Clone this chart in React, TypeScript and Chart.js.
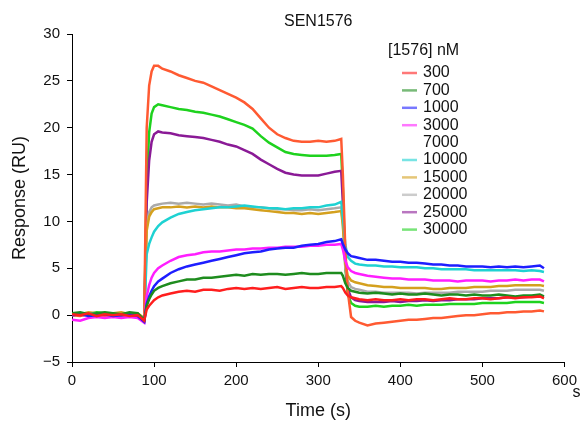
import { useEffect, useRef } from "react";
import { Chart, registerables } from "chart.js";

Chart.register(...registerables);

const FONT = "'Liberation Sans', Arial, Helvetica, sans-serif";

const CHART_TITLE = "SEN1576";
const LEGEND_TITLE = "[1576] nM";
const X_TITLE = "Time (s)";
const Y_TITLE = "Response (RU)";
const X_UNIT = "s";

const TIME = [
  0, 10, 20, 30, 40, 50, 60, 70, 80, 88,
  91, 94, 97, 100, 105,
  110, 120, 130, 140, 150, 160, 170, 180, 190, 200, 210, 220, 230, 240, 250, 260, 270, 280, 290, 300, 310, 320,
  328,
  330, 333, 336, 340, 345,
  350, 360, 370, 380, 390, 400, 410, 420, 430, 440, 450, 460, 470, 480, 490, 500, 510, 520, 530, 540, 550, 560, 570,
  575,
];

const S300 = [
  0.1, 0.0, 0.2, -0.1, 0.1, 0.0, 0.1, -0.1, 0.0, -0.6,
  0.6, 1.0, 1.3, 1.6, 1.9,
  2.1, 2.3, 2.5, 2.6, 2.5, 2.7, 2.7, 2.6, 2.8, 2.9, 2.8, 2.9, 2.8, 2.9, 3.0, 2.8, 2.9, 3.0, 2.9, 2.9, 3.0, 3.0,
  3.1,
  2.9, 2.4, 2.1, 1.9, 1.8,
  1.7, 1.6, 1.7, 1.6, 1.6, 1.7, 1.6, 1.7, 1.7, 1.6, 1.7, 1.8, 1.7, 1.7, 1.8, 1.8, 1.7, 1.8, 1.9, 1.8, 1.9, 1.9, 2.0,
  1.8,
];

const S700 = [
  0.2, 0.3, 0.1, 0.2, 0.3, 0.2, 0.1, 0.3, 0.2, -0.5,
  1.0, 1.7, 2.2, 2.6, 2.9,
  3.1, 3.4, 3.6, 3.8, 3.8, 4.0, 4.0, 4.1, 4.2, 4.3, 4.2, 4.4, 4.3, 4.4, 4.4, 4.3, 4.4, 4.5, 4.4, 4.4, 4.5, 4.5,
  4.5,
  4.2, 3.4, 2.9, 2.6, 2.5,
  2.4, 2.3, 2.4, 2.3, 2.2, 2.3, 2.2, 2.2, 2.3, 2.2, 2.1, 2.2, 2.2, 2.1, 2.2, 2.1, 2.1, 2.2, 2.1, 2.0, 2.1, 2.1, 2.2,
  2.0,
];

const S1000 = [
  0.0, 0.1, -0.1, 0.0, 0.1, -0.1, 0.0, 0.1, -0.1, -0.7,
  1.2, 2.0, 2.6, 3.1, 3.6,
  3.9, 4.5, 4.9, 5.2, 5.4, 5.6, 5.8, 6.0, 6.2, 6.4, 6.6, 6.7, 6.8, 7.0, 7.1, 7.2, 7.2, 7.4, 7.5, 7.6, 7.8, 7.9,
  8.1,
  7.6, 7.0, 6.6, 6.3, 6.2,
  6.1, 5.9, 5.9, 5.8, 5.7, 5.7, 5.6, 5.6, 5.5, 5.4, 5.4, 5.3, 5.3, 5.2, 5.2, 5.2, 5.1, 5.2, 5.1, 5.2, 5.1, 5.2, 5.3,
  5.0,
];

const S3000 = [
  -0.5, -0.6, -0.3, -0.2, -0.3, -0.2, -0.3, -0.2, -0.3, -0.8,
  2.0, 3.2, 4.0, 4.5, 5.0,
  5.3, 5.8, 6.2, 6.4, 6.5, 6.7, 6.8, 6.8, 6.9, 7.0, 7.0, 7.1, 7.1, 7.2, 7.2, 7.3, 7.3, 7.3, 7.4, 7.4, 7.5, 7.5,
  7.6,
  7.0, 5.8, 5.1, 4.7, 4.5,
  4.4, 4.2, 4.1, 4.0, 3.9, 3.9, 3.8, 3.8, 3.8, 3.7, 3.7, 3.7, 3.6, 3.7, 3.7, 3.7, 3.6, 3.7, 3.7, 3.8, 3.7, 3.8, 3.8,
  3.6,
];

const S7000 = [
  0.0, -0.1, 0.1, 0.0, -0.1, 0.0, -0.1, 0.0, -0.1, -0.5,
  20.0, 24.5, 26.0, 26.6, 26.6,
  26.3, 26.0, 25.6, 25.3, 25.0, 24.8, 24.4, 24.0, 23.6, 23.2, 22.7, 22.0, 21.0, 20.0, 19.3, 18.9, 18.6, 18.5, 18.5, 18.6, 18.5, 18.6,
  18.8,
  15.0, 7.0, 2.5, -0.2, -0.6,
  -0.8, -1.1, -0.9, -0.8, -0.7, -0.6, -0.5, -0.5, -0.4, -0.3, -0.3, -0.2, -0.1, 0.0, 0.0, 0.1, 0.2, 0.2, 0.3, 0.3, 0.4, 0.4, 0.5,
  0.4,
];

const S10000 = [
  0.1, 0.0, 0.1, 0.2, 0.0, 0.1, 0.0, 0.1, 0.0, -0.4,
  6.5, 7.6, 8.3, 8.9, 9.5,
  9.9, 10.4, 10.8, 11.0, 11.2, 11.3, 11.4, 11.5, 11.5, 11.6, 11.7, 11.6, 11.5, 11.4, 11.4, 11.3, 11.4, 11.4, 11.5, 11.5, 11.7, 11.8,
  12.1,
  10.5, 7.5, 6.2, 5.8, 5.5,
  5.4, 5.3, 5.3, 5.2, 5.2, 5.1, 5.1, 5.1, 5.0, 5.0, 4.9, 4.9, 4.9, 4.9, 4.8, 4.8, 4.8, 4.8, 4.8, 4.8, 4.7, 4.8, 4.7,
  4.6,
];

const S15000 = [
  0.2, 0.1, 0.3, 0.2, 0.1, 0.2, 0.3, 0.1, 0.2, -0.3,
  9.0, 10.5, 11.0, 11.3, 11.4,
  11.5, 11.5, 11.6, 11.5, 11.6, 11.5, 11.6, 11.5, 11.5, 11.4, 11.4, 11.3, 11.2, 11.1, 11.0, 10.9, 10.9, 10.8, 10.9, 10.8, 10.9, 11.0,
  11.1,
  9.5, 5.5, 4.2, 3.7, 3.5,
  3.4, 3.2, 3.1, 3.0, 3.0, 2.9, 2.9, 2.9, 2.9, 2.8, 2.8, 2.9, 2.9, 2.9, 3.0, 3.0, 3.0, 3.1, 3.1, 3.2, 3.2, 3.2, 3.2,
  3.1,
];

const S20000 = [
  0.1, 0.2, 0.0, 0.1, 0.2, 0.1, 0.0, 0.2, 0.1, -0.4,
  9.5, 11.0, 11.5, 11.7, 11.8,
  11.9, 12.0, 11.9, 12.0, 11.9, 11.8, 11.9, 11.8, 11.7, 11.8, 11.6, 11.5, 11.5, 11.4, 11.3, 11.3, 11.2, 11.2, 11.3, 11.2, 11.3, 11.4,
  11.5,
  9.8, 5.0, 3.6, 3.0, 2.8,
  2.7, 2.5, 2.5, 2.4, 2.4, 2.4, 2.4, 2.3, 2.4, 2.4, 2.4, 2.4, 2.5, 2.5, 2.5, 2.5, 2.6, 2.6, 2.6, 2.7, 2.7, 2.7, 2.7,
  2.6,
];

const S25000 = [
  0.0, 0.1, 0.2, 0.0, 0.1, 0.0, 0.2, 0.1, 0.0, -0.6,
  12.0, 16.5, 18.5, 19.3, 19.6,
  19.5, 19.4, 19.2, 19.1, 19.0, 18.9, 18.7, 18.5, 18.2, 18.0, 17.6, 17.2, 16.6, 16.1, 15.6, 15.2, 15.0, 14.9, 14.9, 14.9, 15.1, 15.3,
  15.4,
  12.0, 5.5, 2.8, 1.9, 1.6,
  1.5, 1.4, 1.4, 1.4, 1.5, 1.4, 1.5, 1.5, 1.6, 1.5, 1.6, 1.6, 1.7, 1.7, 1.7, 1.8, 1.8, 1.8, 1.9, 1.9, 1.9, 2.0, 2.0,
  1.9,
];

const S30000 = [
  0.1, 0.2, 0.1, 0.3, 0.2, 0.1, 0.2, 0.2, 0.1, -0.5,
  14.0, 19.5, 21.5, 22.2, 22.5,
  22.4, 22.2, 22.0, 21.9, 21.7, 21.6, 21.4, 21.2, 20.9, 20.6, 20.3, 19.9, 19.1, 18.4, 17.9, 17.4, 17.2, 17.1, 17.0, 17.0, 17.0, 17.1,
  17.2,
  13.5, 5.0, 2.2, 1.3, 1.0,
  0.9, 0.9, 1.0, 0.9, 1.0, 1.0, 1.1, 1.0, 1.1, 1.1, 1.1, 1.2, 1.2, 1.2, 1.2, 1.3, 1.3, 1.3, 1.3, 1.4, 1.4, 1.4, 1.4,
  1.3,
];

const LABELS = ["300", "700", "1000", "3000", "7000", "10000", "15000", "20000", "25000", "30000"];
const VALUES = [S300, S700, S1000, S3000, S7000, S10000, S15000, S20000, S25000, S30000];
const COLORS = ["#ff1e1e", "#1e8c1e", "#1e1eff", "#ff1eff", "#ff5a32", "#1ed2d2", "#d4a01e", "#aaaaaa", "#8a1a96", "#1ed21e"];
const HIDDEN_SWATCH = ["7000"];

const decor = {
  id: "decor",
  afterDraw(chart: any) {
    const ctx = chart.ctx as CanvasRenderingContext2D;
    const area = chart.chartArea;
    ctx.save();
    ctx.fillStyle = "#111";
    ctx.font = `16px ${FONT}`;
    ctx.textAlign = "center";
    ctx.textBaseline = "middle";
    ctx.fillText(CHART_TITLE, (area.left + area.right) / 2, 22);

    ctx.textAlign = "left";
    ctx.textBaseline = "alphabetic";
    ctx.font = `16px ${FONT}`;
    ctx.fillText(X_UNIT, area.right + 8, 397);

    ctx.font = `16px ${FONT}`;
    ctx.textBaseline = "middle";
    ctx.fillText(LEGEND_TITLE, 388, 51);
    LABELS.forEach((lab, i) => {
      const y = 73 + i * 17.4;
      if (!HIDDEN_SWATCH.includes(lab)) {
        ctx.globalAlpha = 0.6;
        ctx.strokeStyle = COLORS[i];
        ctx.lineWidth = 2.5;
        ctx.beginPath();
        ctx.moveTo(402, y);
        ctx.lineTo(417, y);
        ctx.stroke();
        ctx.globalAlpha = 1;
      }
      ctx.fillStyle = "#111";
      ctx.fillText(lab, 423, y);
    });
    ctx.restore();
  },
};

export default function App() {
  const ref = useRef<HTMLCanvasElement>(null);
  useEffect(() => {
    const datasets = LABELS.map((lab, i) => ({
      label: lab,
      data: TIME.map((t, j) => ({ x: t, y: VALUES[i][j] })),
      borderColor: COLORS[i],
      backgroundColor: COLORS[i],
      borderWidth: 2.5,
      pointRadius: 0,
      tension: 0,
      fill: false,
    }));
    const chart = new Chart(ref.current as HTMLCanvasElement, {
      type: "line",
      data: { datasets },
      options: {
        responsive: false,
        animation: false,
        layout: { padding: { top: 34, right: 17, left: 0, bottom: 0 } },
        plugins: {
          legend: { display: false },
          tooltip: { enabled: false },
          title: { display: false },
        },
        scales: {
          x: {
            type: "linear",
            min: 0,
            max: 600,
            ticks: {
              stepSize: 100,
              font: { size: 15, family: FONT },
              color: "#111",
              padding: 5,
              maxRotation: 0,
            },
            grid: { display: true, drawOnChartArea: false, tickLength: 5, color: "#000" },
            border: { display: true, color: "#000", width: 1 },
            title: {
              display: true,
              text: X_TITLE,
              font: { size: 18, family: FONT },
              color: "#111",
              padding: { top: 0, bottom: 0 },
            },
            afterFit: (s: any) => {
              s.height = 60;
            },
          },
          y: {
            type: "linear",
            min: -5,
            max: 30,
            ticks: {
              stepSize: 5,
              font: { size: 15, family: FONT },
              color: "#111",
              padding: 7,
              callback: (v: any) => (Number(v) < 0 ? "\u2212" + Math.abs(Number(v)) : String(v)),
            },
            grid: { display: true, drawOnChartArea: false, tickLength: 5, color: "#000" },
            border: { display: true, color: "#000", width: 1 },
            title: {
              display: true,
              text: Y_TITLE,
              font: { size: 18, family: FONT },
              color: "#111",
              padding: { top: 9, bottom: 0 },
            },
            afterFit: (s: any) => {
              s.width = 72;
            },
          },
        },
      },
      plugins: [decor],
    });
    return () => chart.destroy();
  }, []);
  return (
    <div style={{ position: "fixed", left: 0, top: 0, width: 582, height: 422, background: "#fff" }}>
      <canvas ref={ref} width={582} height={422} style={{ display: "block" }} />
    </div>
  );
}
